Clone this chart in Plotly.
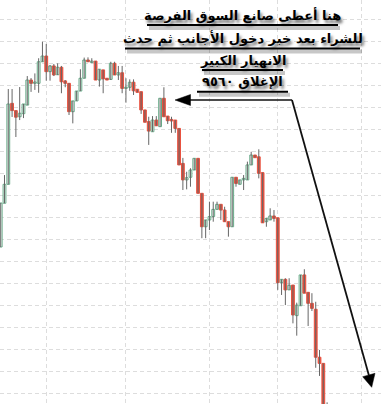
import plotly.graph_objects as go

# ---- data ----
opens = [10265, 10464, 10550, 10918, 10885, 10857, 10871, 10910, 11024, 11009,
         11009, 11107, 11133, 11062, 11088, 11048, 11082, 11020, 11009, 10880,
         10929, 10974, 11032, 11115, 11103, 11110, 11024, 11070, 11032, 11027,
         11100, 11047, 11057, 10986, 10991, 11014, 10982, 10971, 10888, 10835,
         10789, 10842, 10812, 10941, 10860, 10845, 10842, 10804, 10645, 10570,
         10582, 10615, 10668, 10509, 10357, 10388, 10403, 10436, 10459, 10433,
         10380, 10357, 10582, 10550, 10570, 10570, 10638, 10683, 10675, 10603,
         10380, 10388, 10406, 10398, 10103, 10118, 10070, 10092, 9953, 9998,
         10138, 10059, 10009, 9982, 9764, 9736, 9545]
highs = [10465, 10592, 10983, 10983, 10885, 10992, 10915, 11042, 11033, 11054,
         11123, 11198, 11188, 11092, 11097, 11100, 11088, 11024, 11010, 10929,
         10974, 11073, 11126, 11127, 11123, 11110, 11073, 11070, 11032, 11107,
         11107, 11088, 11088, 11032, 11027, 11027, 10982, 10971, 10888, 10857,
         10860, 10860, 10941, 10991, 10860, 10857, 10842, 10804, 10670, 10607,
         10623, 10668, 10668, 10509, 10388, 10471, 10471, 10471, 10459, 10448,
         10380, 10582, 10582, 10570, 10592, 10653, 10698, 10683, 10709, 10603,
         10395, 10441, 10433, 10398, 10118, 10123, 10123, 10092, 10012, 10138,
         10164, 10059, 10055, 10016, 9797, 9736, 9559]
lows = [10265, 10464, 10550, 10856, 10765, 10842, 10851, 10910, 10970, 10979,
        10966, 11107, 11021, 11021, 11042, 11047, 10964, 10991, 10865, 10827,
        10929, 10974, 11032, 11106, 11103, 11024, 10994, 10964, 11024, 11024,
        11047, 11024, 10964, 10921, 10975, 10956, 10968, 10870, 10832, 10729,
        10789, 10816, 10812, 10857, 10824, 10784, 10784, 10638, 10524, 10527,
        10539, 10615, 10509, 10305, 10305, 10342, 10380, 10436, 10388, 10380,
        10312, 10357, 10539, 10550, 10524, 10570, 10638, 10671, 10577, 10375,
        10357, 10388, 10380, 10070, 10047, 10001, 10070, 9918, 9862, 9998,
        10055, 9906, 9974, 9716, 9679, 9520, 9500]
closes = [10465, 10550, 10915, 10885, 10855, 10873, 10915, 11024, 11009, 11015,
          11107, 11133, 11062, 11088, 11047, 11082, 11016, 11009, 10880, 10929,
          10974, 11032, 11115, 11107, 11110, 11024, 11073, 11029, 11024, 11100,
          11047, 11057, 10986, 10991, 11014, 10975, 10968, 10888, 10832, 10792,
          10842, 10816, 10941, 10857, 10839, 10838, 10804, 10638, 10570, 10580,
          10615, 10668, 10509, 10357, 10388, 10403, 10436, 10459, 10433, 10380,
          10357, 10582, 10554, 10570, 10577, 10638, 10683, 10671, 10600, 10375,
          10395, 10406, 10395, 10103, 10118, 10070, 10091, 9956, 10001, 10138,
          10055, 10009, 9986, 9764, 9736, 9540, 9510]
sessions = list(range(len(opens)))
month_starts = [12, 33, 55, 73, 95]

note_lines = ["هنا أعطى صانع السوق الفرصة",
              "للشراء بعد خبر دخول الأجانب ثم حدث",
              "الانهيار الكبير",
              "الإغلاق ٩٥٦٠"]

UP_LINE = "#66a987"
DOWN = "#e8513f"
WICK = "#666666"
W, H = 381, 404


def px(x, y):
    return x / W, 1 - y / H


fig = go.Figure()

# wicks
wx, wy = [], []
for i, hi, lo in zip(sessions, highs, lows):
    wx += [i, i, None]
    wy += [lo, hi, None]
fig.add_trace(go.Scatter(x=wx, y=wy, mode="lines",
                         line=dict(color=WICK, width=1), hoverinfo="skip",
                         showlegend=False))

# bodies
up = [c >= o for o, c in zip(opens, closes)]
fig.add_trace(go.Bar(
    x=sessions,
    base=[min(o, c) for o, c in zip(opens, closes)],
    y=[max(abs(c - o), 1) for o, c in zip(opens, closes)],
    width=0.74,
    marker=dict(color=["#ffffff" if u else DOWN for u in up],
                line=dict(color=[UP_LINE if u else DOWN for u in up], width=1)),
    showlegend=False, hoverinfo="skip"))

shapes = []

# annotation text with underlines and soft shadow
centers = [15, 38, 60.5, 81.5]
underlines = [(25, 147, 338), (48.5, 125, 360), (70, 202, 283), (91.7, 197, 288)]
for t, cy in zip(note_lines, centers):
    ax_, ay_ = px(242.5, cy)
    fig.add_annotation(x=ax_, y=ay_, xref="paper", yref="paper",
                       text=t, showarrow=False, xanchor="center", yanchor="middle",
                       font=dict(family="DejaVu Sans", size=13, color="#000000",
                                 weight="bold",
                                 shadow="2px 3px 3px rgba(0,0,0,0.55)"))
for uy, ux0, ux1 in underlines:
    a = px(ux0 + 2, uy + 3)
    b = px(ux1 + 2, uy + 3)
    shapes.append(dict(type="line", xref="paper", yref="paper",
                       x0=a[0], y0=a[1], x1=b[0], y1=b[1],
                       line=dict(color="rgba(0,0,0,0.22)", width=4)))
    a = px(ux0, uy)
    b = px(ux1, uy)
    shapes.append(dict(type="line", xref="paper", yref="paper",
                       x0=a[0], y0=a[1], x1=b[0], y1=b[1],
                       line=dict(color="#000000", width=2)))

# arrows
corner = (292, 100)
left_tip = (175, 100)
diag_tip = (371.7, 387.3)
x0, y0 = px(189, 100)
x1, y1 = px(*corner)
shapes.append(dict(type="line", xref="paper", yref="paper", x0=x0, y0=y0, x1=x1, y1=y1,
                   line=dict(color="#111111", width=1.5)))
x2, y2 = px(368.8, 375)
shapes.append(dict(type="line", xref="paper", yref="paper", x0=x1, y0=y1, x1=x2, y1=y2,
                   line=dict(color="#111111", width=1.8)))


def tri(p1, p2, p3):
    a, b, c = px(*p1), px(*p2), px(*p3)
    return f"M{a[0]},{a[1]} L{b[0]},{b[1]} L{c[0]},{c[1]} Z"


shapes.append(dict(type="path", xref="paper", yref="paper",
                   path=tri(left_tip, (190.5, 94.5), (190.5, 105.5)),
                   fillcolor="#000000", line=dict(color="#000000", width=0.5)))
shapes.append(dict(type="path", xref="paper", yref="paper",
                   path=tri(diag_tip, (362.7, 376.7), (375, 373.3)),
                   fillcolor="#000000", line=dict(color="#000000", width=0.5)))

grid = dict(gridcolor="#dddddd", griddash="4px,3px", gridwidth=1,
            showticklabels=False, zeroline=False, showline=False, ticks="")

fig.update_layout(
    width=W, height=H, margin=dict(l=0, r=0, t=0, b=0),
    paper_bgcolor="white", plot_bgcolor="white",
    shapes=shapes, barmode="overlay",
    xaxis=dict(range=[-0.184, 100.2], tickmode="array", tickvals=month_starts, **grid),
    yaxis=dict(range=[9551.4, 11387.7], tick0=9600, dtick=100, **grid),
)

fig.write_html("out.html")
